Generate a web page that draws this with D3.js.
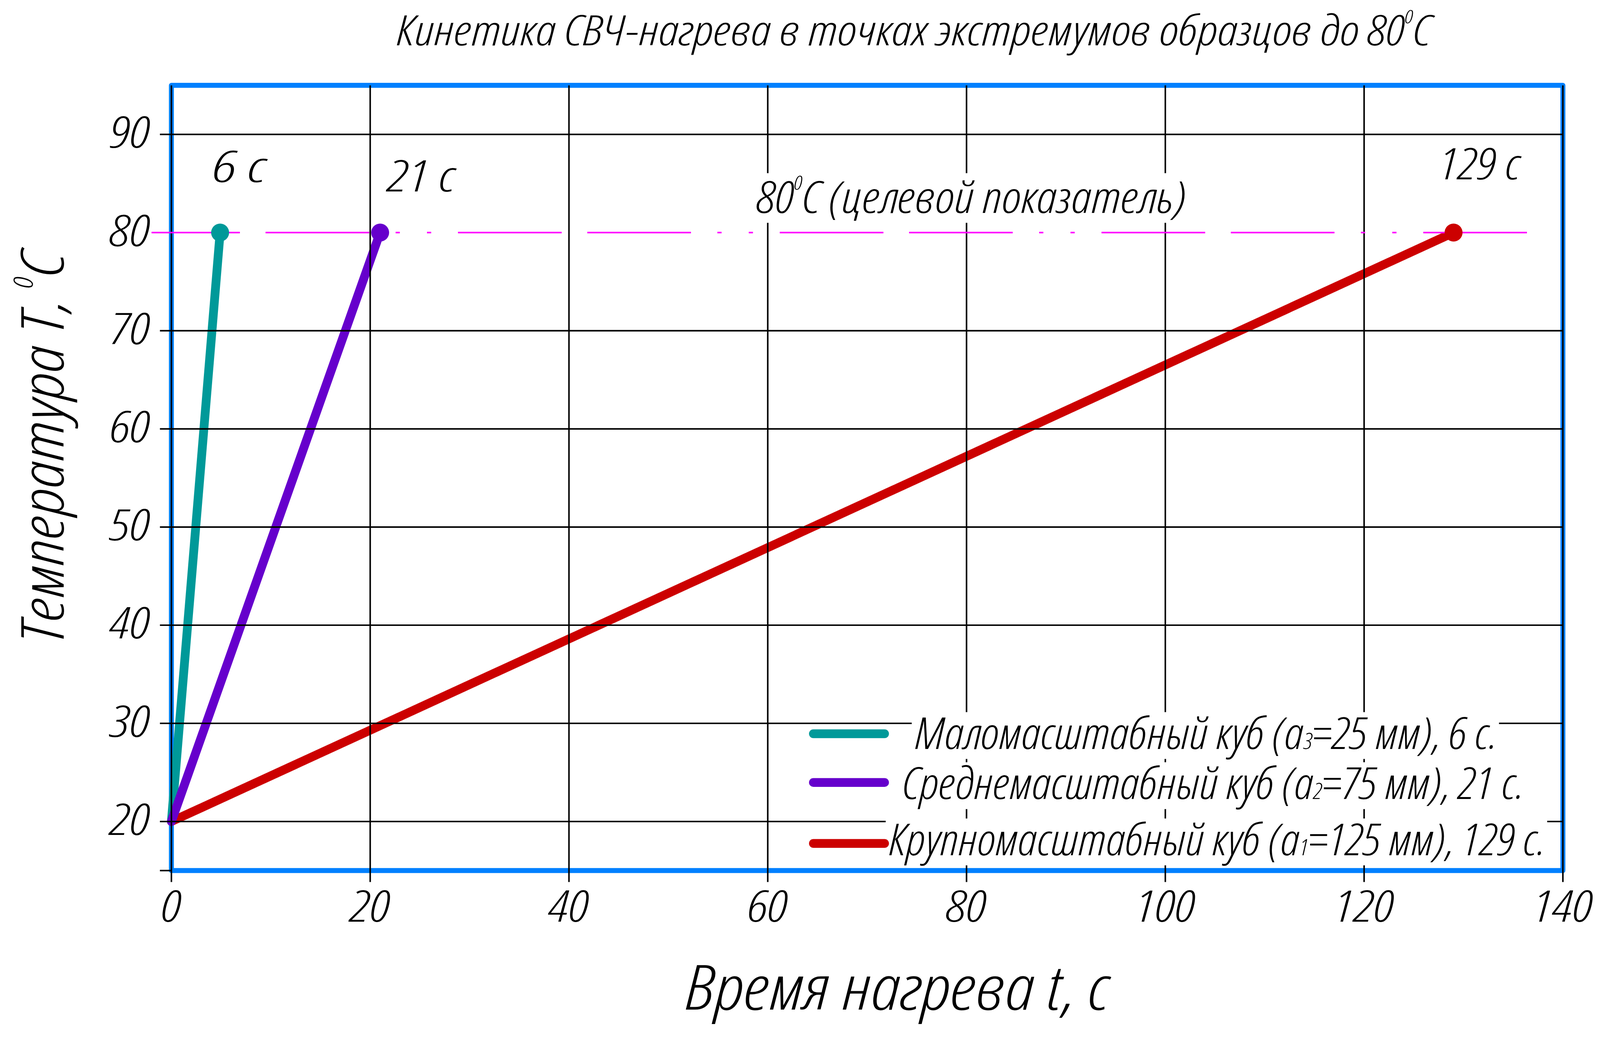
<!DOCTYPE html>
<html><head><meta charset="utf-8">
<script src="https://cdn.jsdelivr.net/npm/d3@7"></script>
<style>
html,body{margin:0;padding:0;background:#fff;overflow:hidden;width:100%;height:100%;}
svg{display:block;width:100vw;height:100vh;}
text{fill:#000;}
</style></head><body>
<svg id="c" viewBox="0 0 4182 2690" preserveAspectRatio="xMidYMin meet"></svg>
<script>
// ---------------- DATA ----------------
const seriesNames   = ["Маломасштабный куб", "Среднемасштабный куб", "Крупномасштабный куб"];
const seriesSub     = ["3", "2", "1"];
const seriesSizeMm  = [25, 75, 125];
const seriesTimeLbl = [6, 21, 129];
const startTime     = [0, 0, 0];
const startTemp     = [20, 20, 20];
const endTime       = [4.9, 21, 129];
const endTemp       = [80, 80, 80];
const xTicks        = [0, 20, 40, 60, 80, 100, 120, 140];
const yTicks        = [20, 30, 40, 50, 60, 70, 80, 90];
const yGridTicks    = [20, 30, 40, 50, 60, 70, 90];
const yStubTicks    = [15];
const xDomain       = [0, 140];
const yDomain       = [15, 95];
const targetTemp    = 80;
const targetSpan    = [-2, 136.4];
const titleMain     = "Кинетика СВЧ-нагрева в точках экстремумов образцов до 80";
const xTitle        = "Время нагрева t, с";
const yTitleMain    = "Температура Т, ";
const targetLabel   = " (целевой показатель)";

// ---------------- STYLE / LAYOUT ----------------
const colors = ["#009999", "#6600cc", "#cc0000"];
const drawOrder = [0, 2, 1];
const L = {
  xRange: [448, 4085], yRange: [2275, 223],
  frame: {color: "#0080ff", w: 13},
  gridW: 4, tickLen: 30,
  lineW: 23, dotR: 23.5,
  magenta: {color: "#ff00ff", w: 4, dash: "271,67,271,69,11,71,11,70", offset: 40},
  tickFs: 113, tickDigitW: 104,
  yTickRight: 392, yTickDy: 35, xTickBase: 2409,
  title: {left: 1037, right: 3741, base: 118, fs: 110},
  xTitle: {left: 1792, right: 2899, base: 2638, fs: 162},
  yTitle: {x: 166, bottom: 1681, top: 659, fs: 155},
  pointLbl: [{dx: -19, dy: -132, w: 139}, {dx: 20, dy: -107, w: 176}, {dx: -37, dy: -139, w: 211}],
  targetLbl: {left: 1979, right: 3101, base: 556, fs: 115},
  legend: {
    x1: 2126, x2: 2312,
    swY: [1917.5, 2044.7, 2204],
    txt: [{l: 2392, r: 3913, b: 1957}, {l: 2359, r: 3983, b: 2088}, {l: 2324, r: 4039, b: 2235}],
    fs: 115
  }
};

const svg = d3.select("#c");
const x = d3.scaleLinear().domain(xDomain).range(L.xRange);
const y = d3.scaleLinear().domain(yDomain).range(L.yRange);

// ---------- pick a narrow italic font that is actually installed ----------
const fontCandidates = [
  {family: '"Noto Sans"', stretch: "75%", weight: 300, pen: 0},
  {family: '"Noto Sans"', stretch: "62.5%", weight: 300, pen: 0},
  {family: '"Open Sans"', stretch: "75%", weight: 300, pen: 0.01},
  {family: '"Noto Sans"', stretch: "87.5%", weight: 300, pen: 0},
  {family: '"Liberation Sans Narrow"', stretch: "100%", weight: 400, pen: 0.06},
  {family: '"DejaVu Sans Condensed"', stretch: "100%", weight: 400, pen: 0.08},
  {family: '"DejaVu Sans"', stretch: "87.5%", weight: 400, pen: 0.08},
  {family: '"Noto Sans"', stretch: "100%", weight: 300, pen: 0}
];
const sampleStr = seriesNames[0] + " (а" + seriesSub[0] + "=" + seriesSizeMm[0] + " мм), " + seriesTimeLbl[0] + " с.";
function measure(family, stretch, weight) {
  const t = svg.append("text").attr("font-size", L.legend.fs)
    .style("font-family", family).style("font-stretch", stretch)
    .style("font-weight", weight).style("font-style", "italic").text(sampleStr);
  const w = t.node().getComputedTextLength();
  t.remove();
  return w;
}
const monoW = measure("monospace", "100%", 400);
const targetW = L.legend.txt[0].r - L.legend.txt[0].l;
let best = fontCandidates[fontCandidates.length - 1], bestScore = Infinity;
fontCandidates.forEach(c => {
  const w = measure(c.family + ", monospace", c.stretch, c.weight);
  if (Math.abs(w - monoW) < 0.5) return;                       // family missing
  if (c.stretch !== "100%") {
    const wn = measure(c.family + ", monospace", "100%", c.weight);
    if (Math.abs(w - wn) < 0.5) return;                         // width face missing
  }
  const score = Math.abs(Math.log(targetW / w)) + c.pen;
  if (score < bestScore) { bestScore = score; best = c; }
});

const root = svg.append("g")
  .style("font-family", best.family + ', "Noto Sans", sans-serif')
  .style("font-stretch", best.stretch)
  .style("font-weight", best.weight)
  .style("font-style", "italic");

// set an exact advance width on a text element
function setLen(t, w) {
  t.attr("textLength", w).attr("lengthAdjust", "spacingAndGlyphs");
}

// ---------------- FRAME ----------------
root.append("rect")
  .attr("x", x(xDomain[0])).attr("y", y(yDomain[1]))
  .attr("width", x(xDomain[1]) - x(xDomain[0]))
  .attr("height", y(yDomain[0]) - y(yDomain[1]))
  .attr("fill", "none").attr("stroke", L.frame.color)
  .attr("stroke-width", L.frame.w).attr("stroke-linejoin", "round");

// ---------------- SERIES LINES ----------------
const series = seriesNames.map((n, i) => ({
  i, name: n, color: colors[i],
  pts: [[startTime[i], startTemp[i]], [endTime[i], endTemp[i]]]
}));
const line = d3.line().x(d => x(d[0])).y(d => y(d[1]));
root.append("g").selectAll("path")
  .data(drawOrder.map(i => series[i])).join("path")
  .attr("d", d => line(d.pts))
  .attr("fill", "none").attr("stroke", d => d.color)
  .attr("stroke-width", L.lineW).attr("stroke-linecap", "round");

// ---------------- GRID ----------------
const grid = root.append("g").attr("stroke", "#000").attr("stroke-width", L.gridW);
grid.selectAll("line.h").data(yGridTicks).join("line").attr("class", "h")
  .attr("x1", x(xDomain[0]) - L.tickLen).attr("x2", x(xDomain[1]))
  .attr("y1", d => y(d)).attr("y2", d => y(d));
grid.selectAll("line.s").data(yStubTicks).join("line").attr("class", "s")
  .attr("x1", x(xDomain[0]) - L.tickLen).attr("x2", x(xDomain[0]))
  .attr("y1", d => y(d)).attr("y2", d => y(d));
grid.selectAll("line.v").data(xTicks).join("line").attr("class", "v")
  .attr("x1", d => x(d)).attr("x2", d => x(d))
  .attr("y1", y(yDomain[1])).attr("y2", y(yDomain[0]) + L.tickLen);

// ---------------- TARGET LINE ----------------
root.append("line")
  .attr("x1", x(targetSpan[0])).attr("x2", x(targetSpan[1]))
  .attr("y1", y(targetTemp)).attr("y2", y(targetTemp))
  .attr("stroke", L.magenta.color).attr("stroke-width", L.magenta.w)
  .attr("stroke-dasharray", L.magenta.dash).attr("stroke-dashoffset", L.magenta.offset);

// ---------------- END DOTS ----------------
root.append("g").selectAll("circle").data(series).join("circle")
  .attr("cx", d => x(d.pts[1][0])).attr("cy", d => y(d.pts[1][1]))
  .attr("r", L.dotR).attr("fill", d => d.color);

// ---------------- TICK LABELS ----------------
const probe = root.append("text").attr("font-size", L.tickFs).text("90");
const tickK = L.tickDigitW / probe.node().getComputedTextLength();
probe.remove();

root.append("g").selectAll("text").data(yTicks).join("text")
  .attr("font-size", L.tickFs).attr("text-anchor", "end")
  .attr("x", L.yTickRight).attr("y", d => y(d) + L.yTickDy)
  .text(d => d)
  .each(function () {
    const t = d3.select(this);
    setLen(t, t.node().getComputedTextLength() * tickK);
  });
root.append("g").selectAll("text").data(xTicks).join("text")
  .attr("font-size", L.tickFs).attr("text-anchor", "middle")
  .attr("x", d => x(d)).attr("y", L.xTickBase)
  .text(d => d)
  .each(function () {
    const t = d3.select(this);
    setLen(t, t.node().getComputedTextLength() * tickK);
  });

// ---------------- POINT LABELS ----------------
root.append("g").selectAll("text").data(series).join("text")
  .attr("font-size", L.tickFs)
  .attr("x", d => x(d.pts[1][0]) + L.pointLbl[d.i].dx)
  .attr("y", d => y(d.pts[1][1]) + L.pointLbl[d.i].dy)
  .text(d => seriesTimeLbl[d.i] + " с")
  .each(function (d) { setLen(d3.select(this), L.pointLbl[d.i].w); });

// helper for "°C" written as superscript 0 + С
function degText(sel, before, after, fs) {
  sel.append("tspan").text(before);
  sel.append("tspan").attr("font-size", fs * 0.45).attr("dy", -fs * 0.52).text("0");
  sel.append("tspan").attr("dy", fs * 0.52).text("С" + after);
}

// ---------------- TARGET LABEL ----------------
{
  const T = L.targetLbl;
  const cap = T.fs * 0.714;
  root.append("rect").attr("x", T.left - 10).attr("y", T.base - cap * 1.26)
    .attr("width", T.right - T.left + 20).attr("height", cap * 1.58).attr("fill", "#fff");
  const t = root.append("text").attr("font-size", T.fs).attr("x", T.left).attr("y", T.base);
  degText(t, String(targetTemp), targetLabel, T.fs);
  setLen(t, T.right - T.left);
}

// ---------------- TITLE ----------------
{
  const T = L.title;
  const t = root.append("text").attr("font-size", T.fs).attr("x", T.left).attr("y", T.base);
  degText(t, titleMain, "", T.fs);
  setLen(t, T.right - T.left);
}

// ---------------- AXIS TITLES ----------------
{
  const T = L.xTitle;
  const t = root.append("text").attr("font-size", T.fs).attr("x", T.left).attr("y", T.base).text(xTitle);
  setLen(t, T.right - T.left);
}
{
  const T = L.yTitle;
  const t = root.append("text").attr("font-size", T.fs)
    .attr("transform", `translate(${T.x},${T.bottom}) rotate(-90)`)
    .attr("x", 0).attr("y", 0);
  degText(t, yTitleMain, "", T.fs);
  setLen(t, T.bottom - T.top);
}

// ---------------- LEGEND ----------------
{
  const G = L.legend;
  const cap = G.fs * 0.714;
  const lg = root.append("g");
  const rows = lg.selectAll("g").data(series).join("g");
  rows.append("rect")
    .attr("x", d => G.txt[d.i].l - 9).attr("y", d => G.txt[d.i].b - cap * 1.17)
    .attr("width", d => G.txt[d.i].r - G.txt[d.i].l + 14).attr("height", cap * 1.49)
    .attr("fill", "#fff");
  rows.append("line")
    .attr("x1", G.x1).attr("x2", G.x2)
    .attr("y1", d => G.swY[d.i]).attr("y2", d => G.swY[d.i])
    .attr("stroke", d => d.color).attr("stroke-width", L.lineW).attr("stroke-linecap", "round");
  rows.append("text").attr("font-size", G.fs)
    .attr("x", d => G.txt[d.i].l).attr("y", d => G.txt[d.i].b)
    .each(function (d) {
      const t = d3.select(this);
      t.append("tspan").text(d.name + " (а");
      t.append("tspan").attr("font-size", G.fs * 0.5).text(seriesSub[d.i]);
      t.append("tspan").text("=" + seriesSizeMm[d.i] + " мм), " + seriesTimeLbl[d.i] + " с.");
      setLen(t, G.txt[d.i].r - G.txt[d.i].l);
    });
}
</script>
</body></html>
